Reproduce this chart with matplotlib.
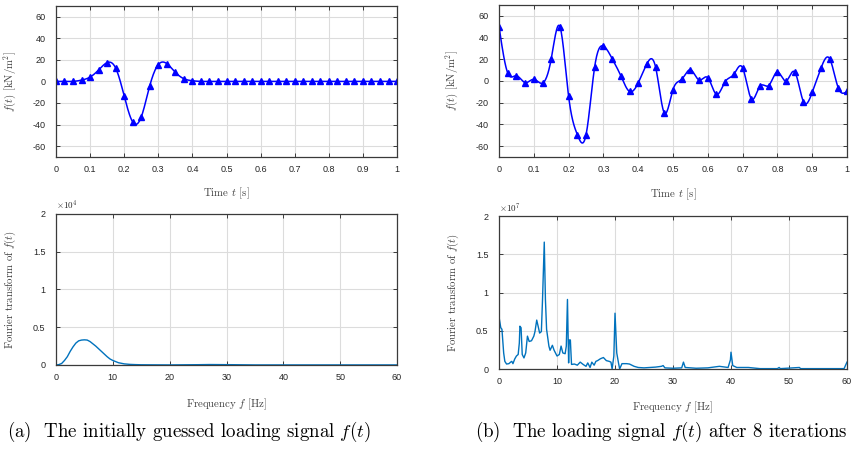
import matplotlib
matplotlib.use("Agg")
import matplotlib.pyplot as plt
import numpy as np

# ---- data ----
t_steps = np.arange(41) * 0.025

f_initial = [0, 0, 0, 1.2, 4, 10.6, 17.4, 12.4, -13.4, -37.6, -33, -4, 15.6,
             16.5, 8.4, 2.5, 0.6, 0, 0, 0, 0, 0, 0, 0, 0, 0, 0, 0, 0, 0, 0,
             0, 0, 0, 0, 0, 0, 0, 0, 0, 0]

f_iter8 = [50, 7.3, 4.8, -1.5, 1.5, -2, 20.3, 50, -14.2, -49.4, -49.7, 13.3,
           32.1, 20.6, 4.8, -9.7, -1.8, 15.8, 12.7, -29.4, -7.9, 1.5, 10.3,
           0.9, 3, -12.4, -0.6, 6.1, 12.1, -16.4, -4.8, -4.2, 8.2, 0, 8.2,
           -19.1, -10.6, 11.5, 20.6, -6.4, -9.7]

# spectrum of the initial signal (x 10^4)
freq_a = [0, 0.5, 1, 1.5, 2, 2.5, 3, 3.5, 4, 4.5, 5, 5.5, 6, 6.5, 7, 7.5, 8,
          8.5, 9, 9.5, 10, 11, 12, 13, 14, 15, 17, 20, 23, 25, 27, 29, 31,
          35, 40, 45, 50, 55, 60]
spec_a = [0, 0.005, 0.02, 0.06, 0.11, 0.18, 0.24, 0.29, 0.32, 0.33, 0.333,
          0.33, 0.31, 0.28, 0.25, 0.215, 0.18, 0.145, 0.11, 0.08, 0.06,
          0.03, 0.015, 0.008, 0.005, 0.003, 0.002, 0.001, 0.003, 0.004,
          0.006, 0.005, 0.004, 0.001, 0.001, 0.001, 0.001, 0.001, 0.001]

# spectrum after 8 iterations (x 10^7)
freq_b = [0, 0.3, 0.5, 0.8, 1.0, 1.3, 1.7, 2.0, 2.2, 2.4, 2.7, 3.0, 3.3, 3.5,
          3.6, 3.8, 4.0, 4.3, 4.6, 4.9, 5.2, 5.6, 6.0, 6.2, 6.5, 6.8, 7.0,
          7.3, 7.5, 7.8, 8.0, 8.2, 8.6, 8.8, 9.2, 9.5, 10.0, 10.4, 10.7,
          11.0, 11.4, 11.6, 11.8, 12.0, 12.1, 12.3, 12.5, 13.0, 13.5, 14.0,
          14.5, 15.0, 15.3, 15.7, 16.0, 16.4, 16.7, 17.0, 17.5, 18.0, 18.5,
          19.0, 19.3, 19.5, 19.8, 20.0, 20.3, 20.6, 20.8, 21.2, 22, 22.5,
          23.3, 24, 25, 26, 27, 28, 28.3, 28.6, 30, 31.5, 31.8, 32.1, 34,
          36, 38, 39.5, 39.9, 40.0, 40.3, 41, 43, 45, 48, 48.3, 48.5, 51.8,
          52, 55, 59.5, 60]
spec_b = [0.68, 0.54, 0.52, 0.21, 0.10, 0.065, 0.07, 0.09, 0.1, 0.07, 0.13,
          0.17, 0.19, 0.34, 0.56, 0.54, 0.19, 0.145, 0.21, 0.43, 0.36, 0.37,
          0.43, 0.49, 0.64, 0.54, 0.47, 0.49, 0.91, 1.66, 0.91, 0.52, 0.30,
          0.245, 0.31, 0.245, 0.17, 0.19, 0.30, 0.21, 0.2, 0.3, 0.91, 0.08,
          0.38, 0.38, 0.06, 0.065, 0.05, 0.09, 0.06, 0.035, 0.08, 0.02, 0.09,
          0.05, 0.10, 0.11, 0.135, 0.15, 0.11, 0.10, 0.09, 0.0, 0.17, 0.73,
          0.21, 0.08, 0.0, 0.07, 0.07, 0.065, 0.035, 0.02, 0.015, 0.02,
          0.025, 0.035, 0.045, 0.015, 0.01, 0.015, 0.09, 0.02, 0.01, 0.015,
          0.035, 0.02, 0.12, 0.22, 0.045, 0.02, 0.02, 0.005, 0.005, 0.02,
          0.005, 0.02, 0.005, 0.005, 0.005, 0.09]

time_ticks = [0, 0.1, 0.2, 0.3, 0.4, 0.5, 0.6, 0.7, 0.8, 0.9, 1]
time_labels = ["0", "0.1", "0.2", "0.3", "0.4", "0.5", "0.6", "0.7", "0.8", "0.9", "1"]
load_ticks = [-60, -40, -20, 0, 20, 40, 60]
freq_ticks = [0, 10, 20, 30, 40, 50, 60]
spec_ticks = [0, 0.5, 1, 1.5, 2]
spec_labels = ["0", "0.5", "1", "1.5", "2"]

captions = [r"(a)  The initially guessed loading signal $f(t)$",
            r"(b)  The loading signal $f(t)$ after 8 iterations"]
exponents = [r"$\times10^{4}$", r"$\times10^{7}$"]

plt.rcParams['mathtext.fontset'] = 'cm'
plt.rcParams['axes.unicode_minus'] = False

SANS = ['Liberation Sans', 'DejaVu Sans']
SERIF = ['cmr10', 'DejaVu Serif']
TICK_COL = '#262626'
LABEL_COL = '#404040'
TICK_FS = 6.5
LABEL_FS = 7.8


def smooth_curve(x, y, n=600):
    # natural cubic spline through the marker values (for the drawn line only)
    x = np.asarray(x, float)
    y = np.asarray(y, float)
    h = np.diff(x)
    m = len(x)
    A = np.zeros((m, m))
    b = np.zeros(m)
    A[0, 0] = A[-1, -1] = 1
    for i in range(1, m - 1):
        A[i, i - 1] = h[i - 1]
        A[i, i] = 2 * (h[i - 1] + h[i])
        A[i, i + 1] = h[i]
        b[i] = 3 * ((y[i + 1] - y[i]) / h[i] - (y[i] - y[i - 1]) / h[i - 1])
    c = np.linalg.solve(A, b)
    xs = np.linspace(x[0], x[-1], n)
    idx = np.clip(np.searchsorted(x, xs) - 1, 0, m - 2)
    dx = xs - x[idx]
    bb = (y[idx + 1] - y[idx]) / h[idx] - h[idx] * (2 * c[idx] + c[idx + 1]) / 3
    dd = (c[idx + 1] - c[idx]) / (3 * h[idx])
    ys = y[idx] + bb * dx + c[idx] * dx ** 2 + dd * dx ** 3
    return xs, ys


def style_axes(ax):
    ax.grid(True, color='#dcdcdc', linewidth=0.8)
    ax.set_axisbelow(True)
    for s in ax.spines.values():
        s.set_color('#3a3a3a')
        s.set_linewidth(0.9)
    ax.tick_params(direction='in', length=3, width=0.7, color='#3a3a3a',
                   top=True, right=True, labelsize=TICK_FS, labelcolor=TICK_COL)
    ax.tick_params(axis='x', pad=6)
    ax.tick_params(axis='y', pad=7.5)
    for lab in ax.get_xticklabels() + ax.get_yticklabels():
        lab.set_family(SANS)


fig = plt.figure(figsize=(8.57, 4.51), dpi=100)

pos_top = [[0.0653, 0.652, 0.398, 0.335], [0.5823, 0.652, 0.406, 0.337]]
pos_bot = [[0.0653, 0.1907, 0.398, 0.335], [0.5823, 0.1818, 0.406, 0.339]]
ylab_x_top = [-0.111, -0.112]
ylab_x_bot = [-0.111, -0.109]
xlab_y_top = [-0.192, -0.192]
xlab_y_bot = [-0.21, -0.2]

# top row: loading signals
for k, vals in enumerate([f_initial, f_iter8]):
    ax = fig.add_axes(pos_top[k])
    xs, ys = smooth_curve(t_steps, vals)
    ax.plot(xs, ys, color='#0000ff', linewidth=1.1)
    ax.plot(t_steps, vals, linestyle='none', marker='^', markersize=4.5,
            color='#0000ff')
    ax.set_xlim(0, 1)
    ax.set_ylim(-70, 70)
    ax.set_xticks(time_ticks)
    ax.set_xticklabels(time_labels)
    ax.set_yticks(load_ticks)
    style_axes(ax)
    ax.set_xlabel(r"Time $t$ [s]", family=SERIF, fontsize=LABEL_FS, color=LABEL_COL)
    ax.set_ylabel(r"$f(t)$ [kN/m$^2$]", family=SERIF, fontsize=LABEL_FS, color=LABEL_COL)
    ax.xaxis.set_label_coords(0.5, xlab_y_top[k])
    ax.yaxis.set_label_coords(ylab_x_top[k], 0.5)

# bottom row: Fourier transforms
for k, (fr, sp) in enumerate([(freq_a, spec_a), (freq_b, spec_b)]):
    ax = fig.add_axes(pos_bot[k])
    ax.plot(fr, sp, color='#0072BD', linewidth=1.0)
    ax.set_xlim(0, 60)
    ax.set_ylim(0, 2)
    ax.set_xticks(freq_ticks)
    ax.set_yticks(spec_ticks)
    ax.set_yticklabels(spec_labels)
    style_axes(ax)
    ax.text(0.0, 1.01, exponents[k], transform=ax.transAxes, ha='left',
            va='bottom', fontsize=TICK_FS, color=TICK_COL, family=SANS)
    ax.set_xlabel(r"Frequency $f$ [Hz]", family=SERIF, fontsize=LABEL_FS, color=LABEL_COL)
    ax.set_ylabel(r"Fourier transform of $f(t)$", family=SERIF, fontsize=LABEL_FS,
                  color=LABEL_COL)
    ax.xaxis.set_label_coords(0.5, xlab_y_bot[k])
    ax.yaxis.set_label_coords(ylab_x_bot[k], 0.5)

fig.text(0.220, 0.042, captions[0], family=SERIF, fontsize=13.6, ha='center',
         va='center', color='black')
fig.text(0.771, 0.042, captions[1], family=SERIF, fontsize=13.6, ha='center',
         va='center', color='black')

fig.savefig("out.png", dpi=100)
